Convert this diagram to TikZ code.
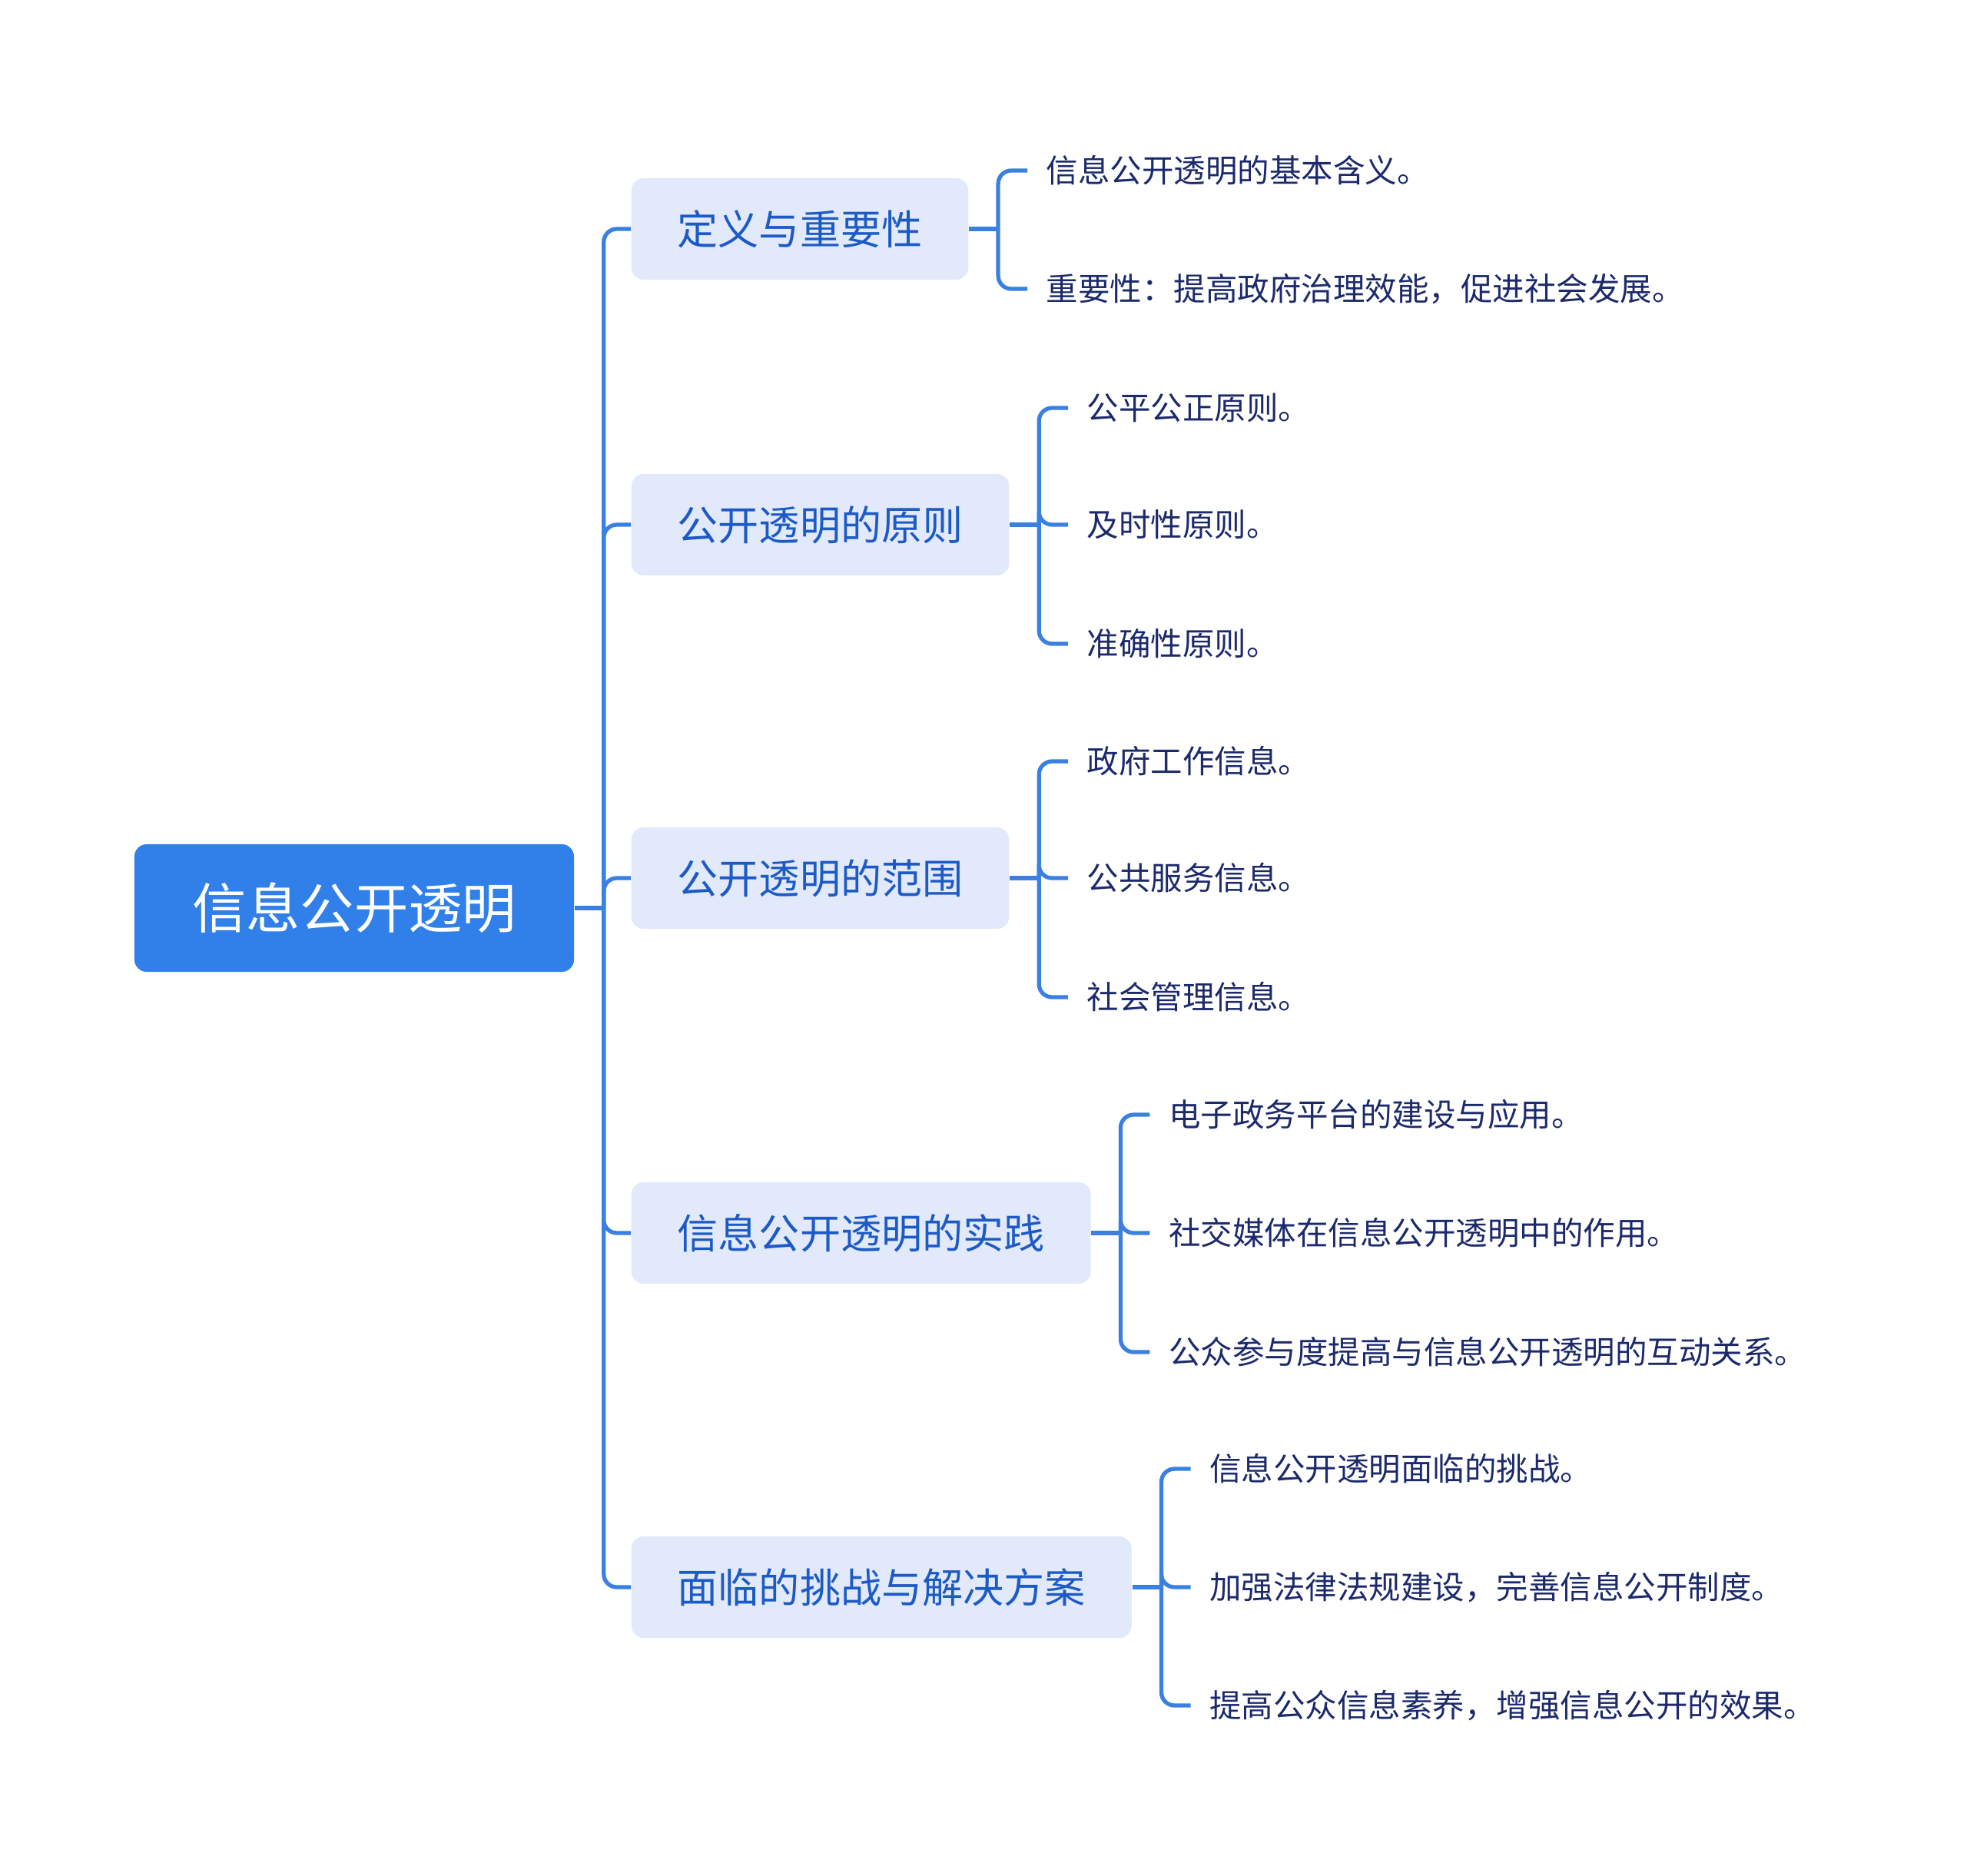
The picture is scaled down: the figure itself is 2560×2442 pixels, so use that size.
\documentclass[tikz,border=0pt]{standalone}
\usepackage{fontspec}
\setmainfont{Noto Sans CJK SC}
\usetikzlibrary{calc}

\definecolor{rootblue}{HTML}{3180E9}
\definecolor{lineblue}{HTML}{3A80E2}
\definecolor{topicfill}{HTML}{E2E9FB}
\definecolor{topictext}{HTML}{1C5BC6}
\definecolor{leaftext}{HTML}{1C2A6C}

\begin{document}
\begin{tikzpicture}[x=0.01cm, y=-0.01cm,
    link/.style={draw=lineblue, line width=1.5pt, rounded corners=0.17cm},
    rootbox/.style={fill=rootblue, text=white, rounded corners=0.16cm, inner xsep=0.75cm, inner ysep=0pt, minimum height=1.66cm, font=\fontsize{20}{24}\selectfont},
    topic/.style={fill=topicfill, text=topictext, rounded corners=0.16cm, inner xsep=0.6cm, inner ysep=0pt, minimum height=1.32cm, anchor=west, font=\fontsize{15.1}{18}\selectfont},
    leaf/.style={text=leaftext, anchor=west, inner xsep=0.24cm, inner ysep=0pt, font=\fontsize{11.8}{14}\selectfont}]
    \useasboundingbox (0,0) rectangle (2560,2442);

    % root and the five topics
    \node[rootbox] (root) at (461,1182) {信息公开透明};
    \node[topic] (t1) at (821,298) {定义与重要性};
    \node[topic] (t2) at (821,683) {公开透明的原则};
    \node[topic] (t3) at (821,1143) {公开透明的范围};
    \node[topic] (t4) at (821,1605) {信息公开透明的实践};
    \node[topic] (t5) at (821,2066) {面临的挑战与解决方案};

    \coordinate (trunk) at ($(root.east)+(38,0)$);
    \draw[link] (root.east) -- (trunk);
    \foreach \t in {t1,t2,t3,t4,t5} {
        \draw[link] (trunk) |- (\t.west);
        \coordinate (\t j) at ($(\t.east)+(38,0)$);
        \draw[link] (\t.east) -- (\t j);
    }

    % leaves
    \foreach \t/\l/\y/\txt in {
        t1/l11/222/{信息公开透明的基本含义。},
        t1/l12/376/{重要性：提高政府治理效能，促进社会发展。},
        t2/l21/531/{公平公正原则。},
        t2/l22/683/{及时性原则。},
        t2/l23/838/{准确性原则。},
        t3/l31/991/{政府工作信息。},
        t3/l32/1143/{公共服务信息。},
        t3/l33/1298/{社会管理信息。},
        t4/l41/1451/{电子政务平台的建设与应用。},
        t4/l42/1605/{社交媒体在信息公开透明中的作用。},
        t4/l43/1760/{公众参与度提高与信息公开透明的互动关系。},
        t5/l51/1912/{信息公开透明面临的挑战。},
        t5/l52/2066/{加强法律法规建设，完善信息公开制度。},
        t5/l53/2220/{提高公众信息素养，增强信息公开的效果。}} {
        \path (\t.east) ++(76,0) coordinate (tmp);
        \node[leaf] (\l) at (tmp |- 0,\y) {\txt};
        \draw[link] (\t j) |- (\l.west);
    }
\end{tikzpicture}
\end{document}
